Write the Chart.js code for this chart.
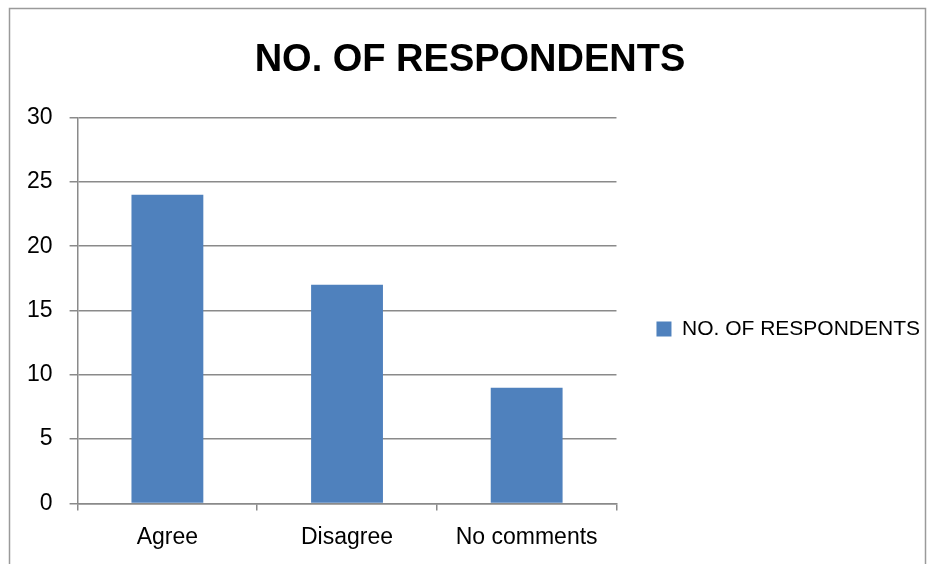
<!DOCTYPE html>
<html>
<head>
<meta charset="utf-8">
<script src="https://cdn.jsdelivr.net/npm/chart.js@4"></script>
<style>
    html, body { margin: 0; padding: 0; background: #fff; }
    #wrap { width: 930px; height: 564px; position: relative; }
</style>
</head>
<body>
<div id="wrap"><canvas id="chart" width="930" height="564"></canvas></div>
<script>
const categories = ["Agree", "Disagree", "No comments"];
const respondents = [24, 17, 9];
const seriesName = "NO. OF RESPONDENTS";
const chartTitle = "NO. OF RESPONDENTS";

const gray = "#8a8a8a";
const barBlue = "#4f81bd";

// thin outer border round the whole chart
const frame = {
    id: "frame",
    beforeDraw(chart) {
        const ctx = chart.ctx;
        ctx.save();
        ctx.strokeStyle = "#9a9a9a";
        ctx.lineWidth = 1.5;
        ctx.strokeRect(9.5, 8.5, 916, 570);
        ctx.restore();
    }
};

new Chart(document.getElementById("chart"), {
    type: "bar",
    data: {
        labels: categories,
        datasets: [{
            label: seriesName,
            data: respondents,
            backgroundColor: barBlue,
            borderWidth: 0,
            barPercentage: 0.4,
            categoryPercentage: 1
        }]
    },
    options: {
        responsive: false,
        animation: false,
        layout: {
            padding: { left: 10, right: 0, top: 38, bottom: 0 }
        },
        plugins: {
            title: {
                display: true,
                text: chartTitle,
                color: "#000",
                font: { family: "Liberation Sans", size: 38, weight: "bold" },
                padding: { top: 0, bottom: 34 }
            },
            legend: {
                position: "right",
                maxWidth: 400,
                // blank title only pushes the single entry down a little
                title: {
                    display: true,
                    text: " ",
                    font: { size: 10 },
                    padding: { top: 44, bottom: 0 }
                },
                labels: {
                    color: "#000",
                    font: { family: "Liberation Sans", size: 21 },
                    boxWidth: 15,
                    boxHeight: 15,
                    padding: 40
                }
            },
            tooltip: { enabled: false }
        },
        scales: {
            x: {
                grid: {
                    display: true,
                    drawOnChartArea: false,
                    color: gray,
                    lineWidth: 1.5,
                    tickLength: 7
                },
                border: { color: gray, width: 1.5 },
                ticks: {
                    color: "#000",
                    font: { family: "Liberation Sans", size: 23 },
                    padding: 13
                }
            },
            y: {
                min: 0,
                max: 30,
                ticks: {
                    stepSize: 5,
                    color: "#000",
                    font: { family: "Liberation Sans", size: 23 },
                    padding: 17
                },
                grid: {
                    color: gray,
                    lineWidth: 1.5,
                    tickLength: 8
                },
                border: { color: gray, width: 1.5 }
            }
        }
    },
    plugins: [frame]
});
</script>
</body>
</html>
